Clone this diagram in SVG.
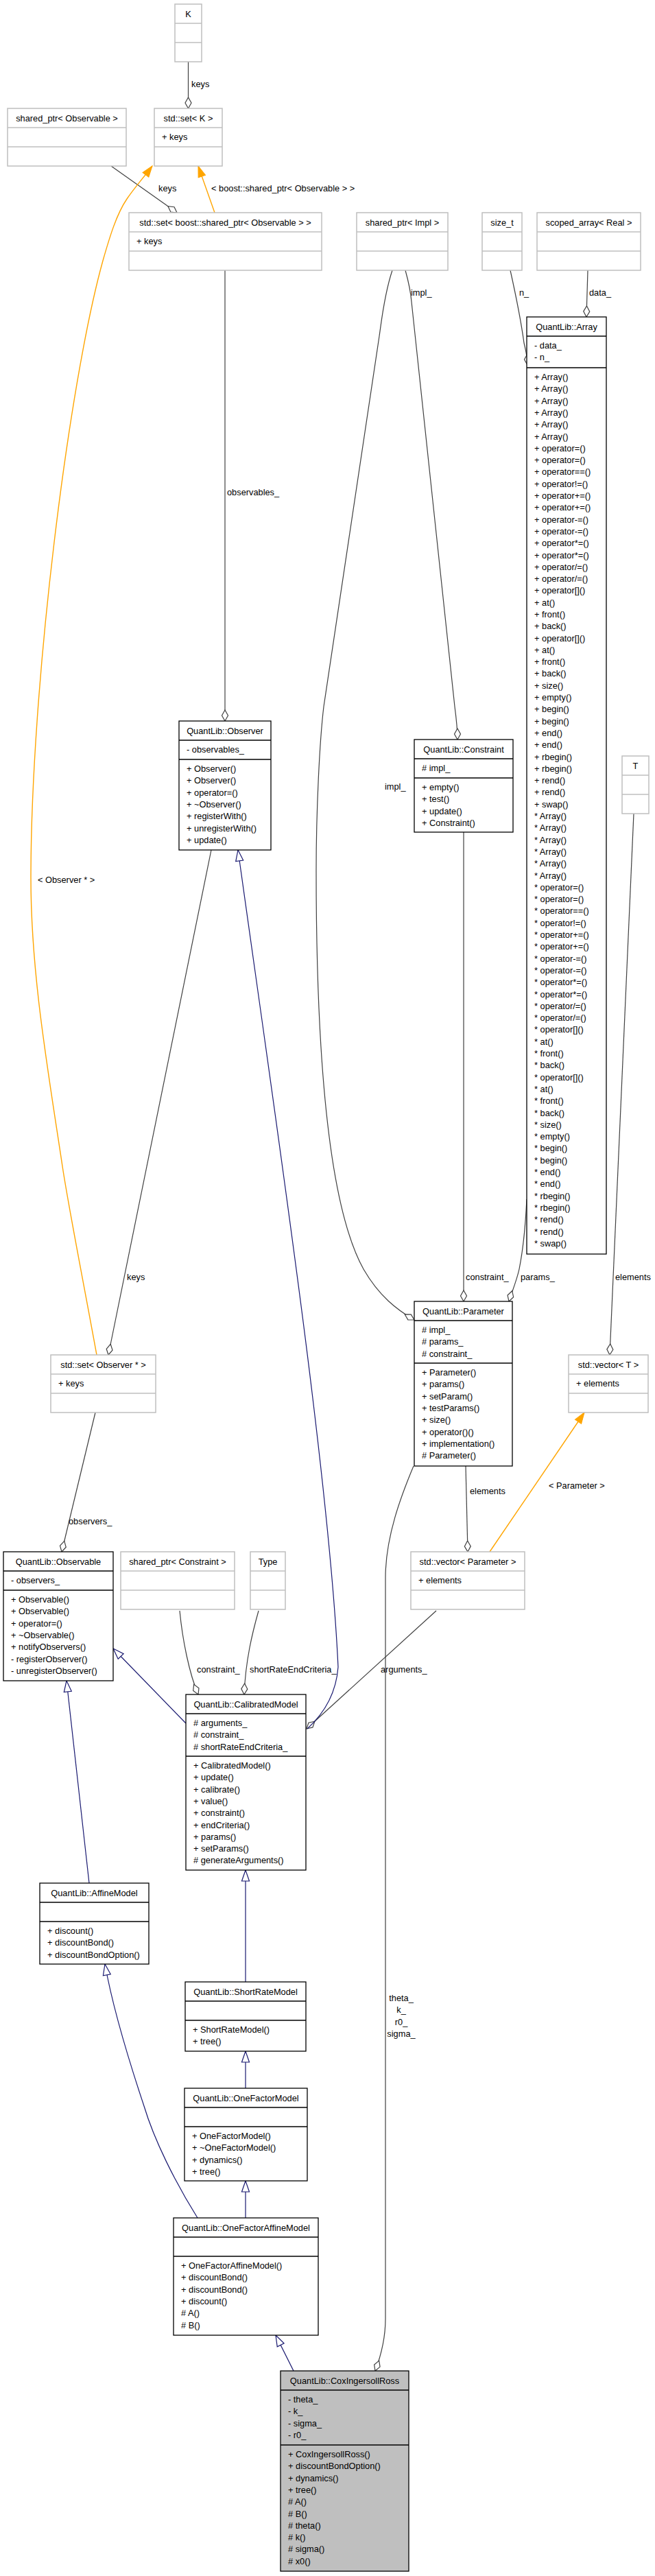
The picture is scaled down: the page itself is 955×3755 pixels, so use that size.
<svg xmlns="http://www.w3.org/2000/svg" width="955" height="3755" viewBox="0 0 955 3755">
<defs>
<style>
text{font-family:"Liberation Sans",Arial,Helvetica,sans-serif;font-size:12.8px;fill:#000}
.c{text-anchor:middle}
.ext rect{stroke:#bfbfbf;stroke-width:1.5;fill:#fff}
.ext line{stroke:#bfbfbf;stroke-width:1.5}
.cls rect{stroke:#000;stroke-width:1.3;fill:#fff}
.cls line{stroke:#000;stroke-width:1.3}
.cur rect{fill:#bfbfbf}
.agg{fill:none;stroke:#404040;stroke-width:1.2}
.inh{fill:none;stroke:#191970;stroke-width:1.2}
.tpl{fill:none;stroke:#ffa500;stroke-width:1.4}
</style>
<marker id="dia" markerUnits="userSpaceOnUse" orient="auto" overflow="visible" refX="0" refY="0" markerWidth="16" markerHeight="9"><path d="M0,0 L-8,-4.5 L-16,0 L-8,4.5 Z" fill="#fff" stroke="#404040" stroke-width="1.2"/></marker>
<marker id="tri" markerUnits="userSpaceOnUse" orient="auto" overflow="visible" refX="0" refY="0" markerWidth="16" markerHeight="11"><path d="M0,0 L-16,-5.5 L-16,5.5 Z" fill="#fff" stroke="#191970" stroke-width="1.2"/></marker>
<marker id="otri" markerUnits="userSpaceOnUse" orient="auto" overflow="visible" refX="0" refY="0" markerWidth="16" markerHeight="11"><path d="M0,0 L-16,-5.5 L-16,5.5 Z" fill="#ffa500" stroke="#ffa500" stroke-width="1"/></marker>
</defs>
<rect width="955" height="3755" fill="#fff"/>

<g id="connectors">
<path class="agg" d="M274.5,90 L274.5,158" marker-end="url(#dia)"/>
<path class="agg" d="M162,242 L258,310" marker-end="url(#dia)"/>
<path class="tpl" d="M313,310 L289,242" marker-end="url(#otri)"/>
<path class="tpl" d="M141,1975 C120,1860 100,1760 91,1700 C70,1560 45,1420 45,1280 C45,1000 100,560 150,380 C160,345 170,312 185,290 C195,275 210,258 222,242" marker-end="url(#otri)"/>
<path class="agg" d="M328,394 L328,1051" marker-end="url(#dia)"/>
<path class="agg" d="M572,394 C560,430 556,470 553,490 L472,1030 C466,1080 461,1180 461,1270 C461,1550 480,1760 530,1850 C553,1890 580,1910 604,1924" marker-end="url(#dia)"/>
<path class="agg" d="M591,394 C596,412 599,428 600,440 L663,1030 C665,1045 667,1060 667,1078" marker-end="url(#dia)"/>
<path class="agg" d="M744,394 C752,430 760,470 764,500 C767,512 769,522 769,532" marker-end="url(#dia)"/>
<path class="agg" d="M857,394 L855,462" marker-end="url(#dia)"/>
<path class="agg" d="M676,1213 L676,1897" marker-end="url(#dia)"/>
<path class="agg" d="M768,1748 C766,1790 762,1825 757,1850 C753,1868 746,1884 742,1897" marker-end="url(#dia)"/>
<path class="agg" d="M924,1186 L889,1975" marker-end="url(#dia)"/>
<path class="agg" d="M308,1239 L158,1975" marker-end="url(#dia)"/>
<path class="agg" d="M139,2059 L90,2262" marker-end="url(#dia)"/>
<path class="agg" d="M679,2137 L682,2262" marker-end="url(#dia)"/>
<path class="tpl" d="M714,2262 L852,2059" marker-end="url(#otri)"/>
<path class="agg" d="M262,2348 C266,2390 276,2440 289,2470" marker-end="url(#dia)"/>
<path class="agg" d="M377,2348 C368,2380 358,2420 356,2470" marker-end="url(#dia)"/>
<path class="agg" d="M636,2348 L447,2520" marker-end="url(#dia)"/>
<path class="agg" d="M603,2137 C585,2180 562,2240 562,2300 L562,3380 C562,3410 555,3435 547,3456" marker-end="url(#dia)"/>
<path class="inh" d="M448,2520 C470,2500 490,2470 493,2430 C480,2150 400,1620 347,1239" marker-end="url(#tri)"/>
<path class="inh" d="M271,2512 L165,2403" marker-end="url(#tri)"/>
<path class="inh" d="M130,2745 L97,2450" marker-end="url(#tri)"/>
<path class="inh" d="M358,2889 L358,2726" marker-end="url(#tri)"/>
<path class="inh" d="M358,3044 L358,2990" marker-end="url(#tri)"/>
<path class="inh" d="M358,3233 L358,3179" marker-end="url(#tri)"/>
<path class="inh" d="M288,3233 C255,3180 225,3120 210,3070 C190,3010 165,2930 153,2863" marker-end="url(#tri)"/>
<path class="inh" d="M428,3456 L402,3404" marker-end="url(#tri)"/>
<text x="279" y="127">keys</text>
<text x="231" y="279">keys</text>
<text x="308" y="279">&lt; boost::shared_ptr&lt; Observable &gt; &gt;</text>
<text x="55" y="1287">&lt; Observer * &gt;</text>
<text x="331" y="722">observables_</text>
<text x="599" y="431">impl_</text>
<text x="757" y="431">n_</text>
<text x="859" y="431">data_</text>
<text x="561" y="1151">impl_</text>
<text x="679" y="1866">constraint_</text>
<text x="759" y="1866">params_</text>
<text x="897" y="1866">elements</text>
<text x="185" y="1866">keys</text>
<text x="100" y="2222">observers_</text>
<text x="685" y="2178">elements</text>
<text x="800" y="2170">&lt; Parameter &gt;</text>
<text x="287" y="2438">constraint_</text>
<text x="364" y="2438">shortRateEndCriteria_</text>
<text x="555" y="2438">arguments_</text>
<text class="c" x="585" y="2917">theta_</text>
<text class="c" x="585" y="2934">k_</text>
<text class="c" x="585" y="2952">r0_</text>
<text class="c" x="585" y="2969">sigma_</text>
</g>

<g id="K" class="ext"><rect x="255" y="6" width="39" height="84"/><line x1="255" y1="34" x2="294" y2="34"/><line x1="255" y1="62" x2="294" y2="62"/><text class="c" x="274.5" y="24.5">K</text></g>

<g id="shared_ptr_Observable" class="ext"><rect x="11" y="158" width="173" height="84"/><line x1="11" y1="186" x2="184" y2="186"/><line x1="11" y1="214" x2="184" y2="214"/><text class="c" x="97.5" y="176.5">shared_ptr&lt; Observable &gt;</text></g>

<g id="set_K" class="ext"><rect x="225" y="158" width="99" height="84"/><line x1="225" y1="186" x2="324" y2="186"/><line x1="225" y1="214" x2="324" y2="214"/><text class="c" x="274.5" y="176.5">std::set&lt; K &gt;</text><text x="236" y="204">+ keys</text></g>

<g id="set_shared_ptr_Observable" class="ext"><rect x="188" y="310" width="281" height="84"/><line x1="188" y1="338" x2="469" y2="338"/><line x1="188" y1="366" x2="469" y2="366"/><text class="c" x="328.5" y="328.5">std::set&lt; boost::shared_ptr&lt; Observable &gt; &gt;</text><text x="199" y="356">+ keys</text></g>

<g id="shared_ptr_Impl" class="ext"><rect x="520" y="310" width="133" height="84"/><line x1="520" y1="338" x2="653" y2="338"/><line x1="520" y1="366" x2="653" y2="366"/><text class="c" x="586.5" y="328.5">shared_ptr&lt; Impl &gt;</text></g>

<g id="size_t" class="ext"><rect x="703" y="310" width="58" height="84"/><line x1="703" y1="338" x2="761" y2="338"/><line x1="703" y1="366" x2="761" y2="366"/><text class="c" x="732" y="328.5">size_t</text></g>

<g id="scoped_array_Real" class="ext"><rect x="783" y="310" width="151" height="84"/><line x1="783" y1="338" x2="934" y2="338"/><line x1="783" y1="366" x2="934" y2="366"/><text class="c" x="858.5" y="328.5">scoped_array&lt; Real &gt;</text></g>

<g id="Array" class="cls"><rect x="768" y="462" width="116" height="1366"/><line x1="768" y1="490" x2="884" y2="490"/><line x1="768" y1="536" x2="884" y2="536"/><text class="c" x="826" y="480.5">QuantLib::Array</text>
<text x="779" y="508"><tspan x="779">- data_</tspan><tspan x="779" dy="17.3">- n_</tspan></text>
<text x="779" y="554"><tspan x="779">+ Array()</tspan><tspan x="779" dy="17.3">+ Array()</tspan><tspan x="779" dy="17.3">+ Array()</tspan><tspan x="779" dy="17.3">+ Array()</tspan><tspan x="779" dy="17.3">+ Array()</tspan><tspan x="779" dy="17.3">+ Array()</tspan><tspan x="779" dy="17.3">+ operator=()</tspan><tspan x="779" dy="17.3">+ operator=()</tspan><tspan x="779" dy="17.3">+ operator==()</tspan><tspan x="779" dy="17.3">+ operator!=()</tspan><tspan x="779" dy="17.3">+ operator+=()</tspan><tspan x="779" dy="17.3">+ operator+=()</tspan><tspan x="779" dy="17.3">+ operator-=()</tspan><tspan x="779" dy="17.3">+ operator-=()</tspan><tspan x="779" dy="17.3">+ operator*=()</tspan><tspan x="779" dy="17.3">+ operator*=()</tspan><tspan x="779" dy="17.3">+ operator/=()</tspan><tspan x="779" dy="17.3">+ operator/=()</tspan><tspan x="779" dy="17.3">+ operator[]()</tspan><tspan x="779" dy="17.3">+ at()</tspan><tspan x="779" dy="17.3">+ front()</tspan><tspan x="779" dy="17.3">+ back()</tspan><tspan x="779" dy="17.3">+ operator[]()</tspan><tspan x="779" dy="17.3">+ at()</tspan><tspan x="779" dy="17.3">+ front()</tspan><tspan x="779" dy="17.3">+ back()</tspan><tspan x="779" dy="17.3">+ size()</tspan><tspan x="779" dy="17.3">+ empty()</tspan><tspan x="779" dy="17.3">+ begin()</tspan><tspan x="779" dy="17.3">+ begin()</tspan><tspan x="779" dy="17.3">+ end()</tspan><tspan x="779" dy="17.3">+ end()</tspan><tspan x="779" dy="17.3">+ rbegin()</tspan><tspan x="779" dy="17.3">+ rbegin()</tspan><tspan x="779" dy="17.3">+ rend()</tspan><tspan x="779" dy="17.3">+ rend()</tspan><tspan x="779" dy="17.3">+ swap()</tspan><tspan x="779" dy="17.3">* Array()</tspan><tspan x="779" dy="17.3">* Array()</tspan><tspan x="779" dy="17.3">* Array()</tspan><tspan x="779" dy="17.3">* Array()</tspan><tspan x="779" dy="17.3">* Array()</tspan><tspan x="779" dy="17.3">* Array()</tspan><tspan x="779" dy="17.3">* operator=()</tspan><tspan x="779" dy="17.3">* operator=()</tspan><tspan x="779" dy="17.3">* operator==()</tspan><tspan x="779" dy="17.3">* operator!=()</tspan><tspan x="779" dy="17.3">* operator+=()</tspan><tspan x="779" dy="17.3">* operator+=()</tspan><tspan x="779" dy="17.3">* operator-=()</tspan><tspan x="779" dy="17.3">* operator-=()</tspan><tspan x="779" dy="17.3">* operator*=()</tspan><tspan x="779" dy="17.3">* operator*=()</tspan><tspan x="779" dy="17.3">* operator/=()</tspan><tspan x="779" dy="17.3">* operator/=()</tspan><tspan x="779" dy="17.3">* operator[]()</tspan><tspan x="779" dy="17.3">* at()</tspan><tspan x="779" dy="17.3">* front()</tspan><tspan x="779" dy="17.3">* back()</tspan><tspan x="779" dy="17.3">* operator[]()</tspan><tspan x="779" dy="17.3">* at()</tspan><tspan x="779" dy="17.3">* front()</tspan><tspan x="779" dy="17.3">* back()</tspan><tspan x="779" dy="17.3">* size()</tspan><tspan x="779" dy="17.3">* empty()</tspan><tspan x="779" dy="17.3">* begin()</tspan><tspan x="779" dy="17.3">* begin()</tspan><tspan x="779" dy="17.3">* end()</tspan><tspan x="779" dy="17.3">* end()</tspan><tspan x="779" dy="17.3">* rbegin()</tspan><tspan x="779" dy="17.3">* rbegin()</tspan><tspan x="779" dy="17.3">* rend()</tspan><tspan x="779" dy="17.3">* rend()</tspan><tspan x="779" dy="17.3">* swap()</tspan></text></g>

<g id="Observer" class="cls"><rect x="261" y="1051" width="134" height="188"/><line x1="261" y1="1079" x2="395" y2="1079"/><line x1="261" y1="1107" x2="395" y2="1107"/><text class="c" x="328" y="1069.5">QuantLib::Observer</text><text x="272" y="1097">- observables_</text>
<text x="272" y="1125"><tspan x="272">+ Observer()</tspan><tspan x="272" dy="17.3">+ Observer()</tspan><tspan x="272" dy="17.3">+ operator=()</tspan><tspan x="272" dy="17.3">+ ~Observer()</tspan><tspan x="272" dy="17.3">+ registerWith()</tspan><tspan x="272" dy="17.3">+ unregisterWith()</tspan><tspan x="272" dy="17.3">+ update()</tspan></text></g>

<g id="Constraint" class="cls"><rect x="604" y="1078" width="144" height="135"/><line x1="604" y1="1106" x2="748" y2="1106"/><line x1="604" y1="1134" x2="748" y2="1134"/><text class="c" x="676" y="1096.5">QuantLib::Constraint</text><text x="615" y="1124"># impl_</text>
<text x="615" y="1152"><tspan x="615">+ empty()</tspan><tspan x="615" dy="17.3">+ test()</tspan><tspan x="615" dy="17.3">+ update()</tspan><tspan x="615" dy="17.3">+ Constraint()</tspan></text></g>

<g id="T" class="ext"><rect x="907" y="1102" width="39" height="84"/><line x1="907" y1="1130" x2="946" y2="1130"/><line x1="907" y1="1158" x2="946" y2="1158"/><text class="c" x="926.5" y="1120.5">T</text></g>

<g id="Parameter" class="cls"><rect x="604" y="1897" width="143" height="240"/><line x1="604" y1="1925" x2="747" y2="1925"/><line x1="604" y1="1987" x2="747" y2="1987"/><text class="c" x="675.5" y="1915.5">QuantLib::Parameter</text>
<text x="615" y="1943"><tspan x="615"># impl_</tspan><tspan x="615" dy="17.3"># params_</tspan><tspan x="615" dy="17.3"># constraint_</tspan></text>
<text x="615" y="2005"><tspan x="615">+ Parameter()</tspan><tspan x="615" dy="17.3">+ params()</tspan><tspan x="615" dy="17.3">+ setParam()</tspan><tspan x="615" dy="17.3">+ testParams()</tspan><tspan x="615" dy="17.3">+ size()</tspan><tspan x="615" dy="17.3">+ operator()()</tspan><tspan x="615" dy="17.3">+ implementation()</tspan><tspan x="615" dy="17.3"># Parameter()</tspan></text></g>

<g id="set_Observer_ptr" class="ext"><rect x="74" y="1975" width="153" height="84"/><line x1="74" y1="2003" x2="227" y2="2003"/><line x1="74" y1="2031" x2="227" y2="2031"/><text class="c" x="150.5" y="1993.5">std::set&lt; Observer * &gt;</text><text x="85" y="2021">+ keys</text></g>

<g id="vector_T" class="ext"><rect x="829" y="1975" width="116" height="84"/><line x1="829" y1="2003" x2="945" y2="2003"/><line x1="829" y1="2031" x2="945" y2="2031"/><text class="c" x="887" y="1993.5">std::vector&lt; T &gt;</text><text x="840" y="2021">+ elements</text></g>

<g id="Observable" class="cls"><rect x="5" y="2262" width="160" height="188"/><line x1="5" y1="2290" x2="165" y2="2290"/><line x1="5" y1="2318" x2="165" y2="2318"/><text class="c" x="85" y="2280.5">QuantLib::Observable</text><text x="16" y="2308">- observers_</text>
<text x="16" y="2336"><tspan x="16">+ Observable()</tspan><tspan x="16" dy="17.3">+ Observable()</tspan><tspan x="16" dy="17.3">+ operator=()</tspan><tspan x="16" dy="17.3">+ ~Observable()</tspan><tspan x="16" dy="17.3">+ notifyObservers()</tspan><tspan x="16" dy="17.3">- registerObserver()</tspan><tspan x="16" dy="17.3">- unregisterObserver()</tspan></text></g>

<g id="shared_ptr_Constraint" class="ext"><rect x="176" y="2262" width="166" height="84"/><line x1="176" y1="2290" x2="342" y2="2290"/><line x1="176" y1="2318" x2="342" y2="2318"/><text class="c" x="259" y="2280.5">shared_ptr&lt; Constraint &gt;</text></g>

<g id="Type" class="ext"><rect x="365" y="2262" width="51" height="84"/><line x1="365" y1="2290" x2="416" y2="2290"/><line x1="365" y1="2318" x2="416" y2="2318"/><text class="c" x="390.5" y="2280.5">Type</text></g>

<g id="vector_Parameter" class="ext"><rect x="599" y="2262" width="166" height="84"/><line x1="599" y1="2290" x2="765" y2="2290"/><line x1="599" y1="2318" x2="765" y2="2318"/><text class="c" x="682" y="2280.5">std::vector&lt; Parameter &gt;</text><text x="610" y="2308">+ elements</text></g>

<g id="CalibratedModel" class="cls"><rect x="271" y="2470" width="175" height="256"/><line x1="271" y1="2498" x2="446" y2="2498"/><line x1="271" y1="2560" x2="446" y2="2560"/><text class="c" x="358.5" y="2488.5">QuantLib::CalibratedModel</text>
<text x="282" y="2516"><tspan x="282"># arguments_</tspan><tspan x="282" dy="17.3"># constraint_</tspan><tspan x="282" dy="17.3"># shortRateEndCriteria_</tspan></text>
<text x="282" y="2578"><tspan x="282">+ CalibratedModel()</tspan><tspan x="282" dy="17.3">+ update()</tspan><tspan x="282" dy="17.3">+ calibrate()</tspan><tspan x="282" dy="17.3">+ value()</tspan><tspan x="282" dy="17.3">+ constraint()</tspan><tspan x="282" dy="17.3">+ endCriteria()</tspan><tspan x="282" dy="17.3">+ params()</tspan><tspan x="282" dy="17.3">+ setParams()</tspan><tspan x="282" dy="17.3"># generateArguments()</tspan></text></g>

<g id="AffineModel" class="cls"><rect x="58" y="2745" width="159" height="118"/><line x1="58" y1="2773" x2="217" y2="2773"/><line x1="58" y1="2801" x2="217" y2="2801"/><text class="c" x="137.5" y="2763.5">QuantLib::AffineModel</text>
<text x="69" y="2819"><tspan x="69">+ discount()</tspan><tspan x="69" dy="17.3">+ discountBond()</tspan><tspan x="69" dy="17.3">+ discountBondOption()</tspan></text></g>

<g id="ShortRateModel" class="cls"><rect x="270" y="2889" width="176" height="101"/><line x1="270" y1="2917" x2="446" y2="2917"/><line x1="270" y1="2945" x2="446" y2="2945"/><text class="c" x="358" y="2907.5">QuantLib::ShortRateModel</text>
<text x="281" y="2963"><tspan x="281">+ ShortRateModel()</tspan><tspan x="281" dy="17.3">+ tree()</tspan></text></g>

<g id="OneFactorModel" class="cls"><rect x="269" y="3044" width="179" height="135"/><line x1="269" y1="3072" x2="448" y2="3072"/><line x1="269" y1="3100" x2="448" y2="3100"/><text class="c" x="358.5" y="3062.5">QuantLib::OneFactorModel</text>
<text x="280" y="3118"><tspan x="280">+ OneFactorModel()</tspan><tspan x="280" dy="17.3">+ ~OneFactorModel()</tspan><tspan x="280" dy="17.3">+ dynamics()</tspan><tspan x="280" dy="17.3">+ tree()</tspan></text></g>

<g id="OneFactorAffineModel" class="cls"><rect x="253" y="3233" width="211" height="171"/><line x1="253" y1="3261" x2="464" y2="3261"/><line x1="253" y1="3289" x2="464" y2="3289"/><text class="c" x="358.5" y="3251.5">QuantLib::OneFactorAffineModel</text>
<text x="264" y="3307"><tspan x="264">+ OneFactorAffineModel()</tspan><tspan x="264" dy="17.3">+ discountBond()</tspan><tspan x="264" dy="17.3">+ discountBond()</tspan><tspan x="264" dy="17.3">+ discount()</tspan><tspan x="264" dy="17.3"># A()</tspan><tspan x="264" dy="17.3"># B()</tspan></text></g>

<g id="CoxIngersollRoss" class="cls cur"><rect x="409" y="3456" width="187" height="292"/><line x1="409" y1="3484" x2="596" y2="3484"/><line x1="409" y1="3564" x2="596" y2="3564"/><text class="c" x="502.5" y="3474.5">QuantLib::CoxIngersollRoss</text>
<text x="420" y="3502"><tspan x="420">- theta_</tspan><tspan x="420" dy="17.3">- k_</tspan><tspan x="420" dy="17.3">- sigma_</tspan><tspan x="420" dy="17.3">- r0_</tspan></text>
<text x="420" y="3582"><tspan x="420">+ CoxIngersollRoss()</tspan><tspan x="420" dy="17.3">+ discountBondOption()</tspan><tspan x="420" dy="17.3">+ dynamics()</tspan><tspan x="420" dy="17.3">+ tree()</tspan><tspan x="420" dy="17.3"># A()</tspan><tspan x="420" dy="17.3"># B()</tspan><tspan x="420" dy="17.3"># theta()</tspan><tspan x="420" dy="17.3"># k()</tspan><tspan x="420" dy="17.3"># sigma()</tspan><tspan x="420" dy="17.3"># x0()</tspan></text></g>
</svg>
